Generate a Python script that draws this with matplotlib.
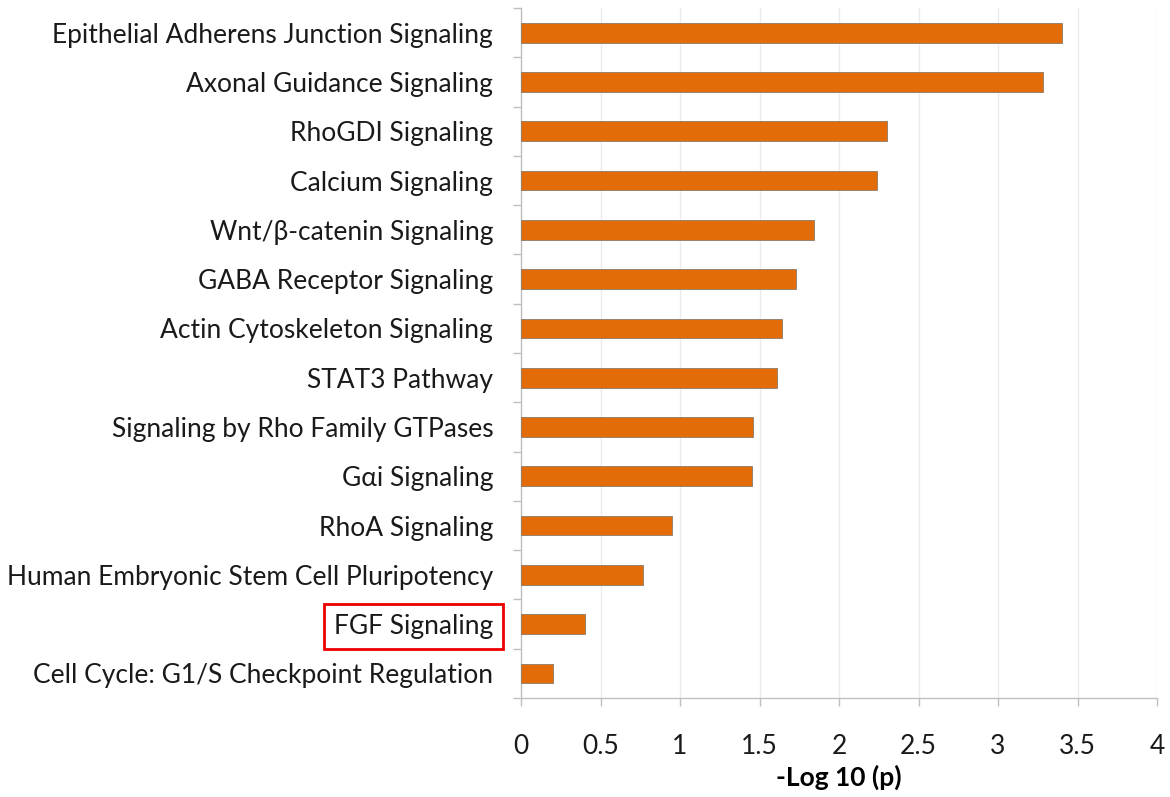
import matplotlib
matplotlib.use("Agg")
import matplotlib.pyplot as plt
import numpy as np

categories = [
    "Epithelial Adherens Junction Signaling",
    "Axonal Guidance Signaling",
    "RhoGDI Signaling",
    "Calcium Signaling",
    "Wnt/β-catenin Signaling",
    "GABA Receptor Signaling",
    "Actin Cytoskeleton Signaling",
    "STAT3 Pathway",
    "Signaling by Rho Family GTPases",
    "Gαi Signaling",
    "RhoA Signaling",
    "Human Embryonic Stem Cell Pluripotency",
    "FGF Signaling",
    "Cell Cycle: G1/S Checkpoint Regulation",
]
values = [3.40, 3.28, 2.30, 2.24, 1.84, 1.73, 1.64, 1.61, 1.46, 1.45, 0.95, 0.77, 0.40, 0.20]
xticks = [0, 0.5, 1, 1.5, 2, 2.5, 3, 3.5, 4]
xtick_labels = ["0", "0.5", "1", "1.5", "2", "2.5", "3", "3.5", "4"]
highlight = "FGF Signaling"

plt.rcParams['font.family'] = ['Lato', 'DejaVu Sans']

fig = plt.figure(figsize=(11.70, 7.97), dpi=100)
ax = fig.add_axes([521/1170, 1-698/797, (1157-521)/1170, (698-8)/797])

y = np.arange(len(categories))
ax.barh(y, values, height=0.4, color="#E36C09", edgecolor="#8c7a6a", linewidth=0.6, zorder=3)
ax.set_ylim(len(categories) - 0.5, -0.5)
ax.set_xlim(0, 4)

ax.set_yticks(y)
ax.set_yticklabels(categories, fontsize=19, color="#1a1a1a")
ax.set_yticks(np.arange(len(categories) + 1) - 0.5, minor=True)
ax.tick_params(axis='y', which='major', length=0, pad=20)
ax.tick_params(axis='y', which='minor', length=6, color="#bfbfbf", width=1)

ax.set_xticks(xticks)
ax.set_xticklabels(xtick_labels, fontsize=19, color="#1a1a1a")
ax.tick_params(axis='x', which='major', length=6, color="#bfbfbf", width=1, pad=20)

ax.xaxis.grid(True, color="#ebebeb", linewidth=1, zorder=0)
ax.set_axisbelow(True)
for s in ["top", "right"]:
    ax.spines[s].set_visible(False)
for s in ["left", "bottom"]:
    ax.spines[s].set_color("#bfbfbf")
    ax.spines[s].set_linewidth(1)

ax.set_xlabel("-Log 10 (p)", fontsize=19, fontweight="bold", labelpad=4)

for lab in ax.get_yticklabels():
    if lab.get_text() == highlight:
        lab.set_bbox(dict(facecolor="none", edgecolor="#ee0000", linewidth=2, boxstyle="square,pad=0.38"))

fig.savefig("out.png", dpi=100, facecolor="white")
